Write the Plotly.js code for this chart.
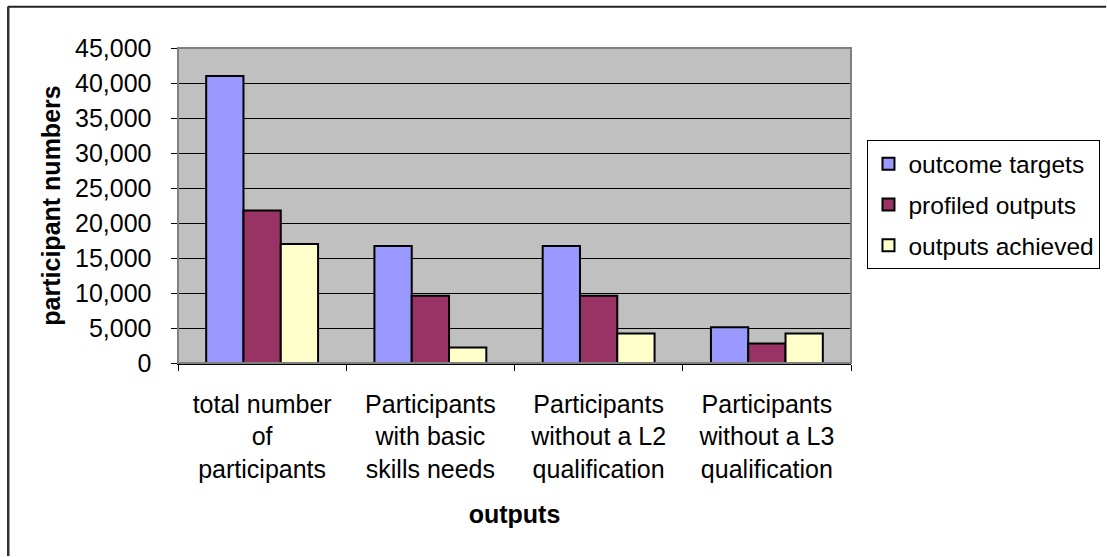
<!DOCTYPE html>
<html>
<head>
<meta charset="utf-8">
<script src="https://cdn.plot.ly/plotly-3.0.1.min.js"></script>
<style>html,body{margin:0;padding:0;background:#fff;}#chart{width:1107px;height:557px;}</style>
</head>
<body>
<div id="chart"></div>
<script>
const categories = [
  "total number<br>of<br>participants",
  "Participants<br>with basic<br>skills needs",
  "Participants<br>without a L2<br>qualification",
  "Participants<br>without a L3<br>qualification"
];
const seriesNames = ["outcome targets", "profiled outputs", "outputs achieved"];
const outcomeTargets = [41000, 16700, 16700, 5100];
const profiledOutputs = [21800, 9600, 9600, 2800];
const outputsAchieved = [17000, 2200, 4200, 4200];
const yTickValues = [0, 5000, 10000, 15000, 20000, 25000, 30000, 35000, 40000, 45000];

const colors = ["#9999FF", "#993366", "#FFFFCC"];
const seriesValues = [outcomeTargets, profiledOutputs, outputsAchieved];
const FONT = "Liberation Sans, Arial, sans-serif";

const traces = seriesValues.map((vals, i) => ({
  type: "bar",
  name: seriesNames[i],
  x: categories,
  y: vals,
  legendgroup: "g" + i,
  marker: {color: colors[i], line: {color: "#000000", width: 2}},
  hoverinfo: "x+y+name"
}));

const L = 177.5, R = 255.5, T = 47.5, B = 193.5;
const W = 1107, H = 557;
const pw = W - L - R, ph = H - T - B;
const px = v => (v - L) / pw;
const py = v => (H - B - v) / ph;

const layout = {
  width: W, height: H,
  margin: {l: L, r: R, t: T, b: B, pad: 0, autoexpand: false},
  paper_bgcolor: "#ffffff",
  plot_bgcolor: "#C0C0C0",
  font: {family: FONT, size: 25, color: "#000000"},
  barmode: "group",
  bargap: 0.335,
  bargroupgap: 0,
  showlegend: true,
  legend: {
    x: px(868), y: py(140), xanchor: "left", yanchor: "top",
    bgcolor: "#ffffff", bordercolor: "#000000", borderwidth: 1,
    font: {family: FONT, size: 24.5, color: "#000000"},
    tracegroupgap: 6,
    itemwidth: 30
  },
  xaxis: {
    type: "category",
    tickson: "boundaries",
    ticks: "outside", ticklen: 6, tickcolor: "#000000", tickwidth: 1,
    showline: true, linecolor: "#000000", linewidth: 1.5,
    showgrid: false, zeroline: false,
    tickfont: {family: FONT, size: 25},
    ticklabelstandoff: 18,
    title: {text: "outputs", font: {family: FONT, size: 25, weight: "bold"}, standoff: 24},
    automargin: false
  },
  yaxis: {
    range: [0, 45000],
    tickvals: yTickValues,
    tickformat: ",d",
    ticks: "outside", ticklen: 6, tickcolor: "#000000", tickwidth: 1,
    showline: true, linecolor: "#000000", linewidth: 1.5,
    showgrid: true, gridcolor: "#000000", gridwidth: 1,
    zeroline: false,
    tickfont: {family: FONT, size: 25},
    ticklabelstandoff: 14,
    title: {text: "participant numbers", font: {family: FONT, size: 25, weight: "bold"}, standoff: 7},
    automargin: false
  },
  shapes: [
    {type: "rect", xref: "paper", yref: "paper", x0: 0, x1: 1, y0: 0, y1: 1,
     line: {color: "#808080", width: 2}, fillcolor: "rgba(0,0,0,0)", layer: "above"},
    {type: "line", xref: "paper", yref: "paper", x0: px(7), x1: px(1107), y0: py(6), y1: py(6),
     line: {color: "#222222", width: 2}},
    {type: "line", xref: "paper", yref: "paper", x0: px(7.5), x1: px(7.5), y0: py(6), y1: py(557),
     line: {color: "#333333", width: 2.5}}
  ]
};

Plotly.newPlot("chart", traces, layout, {displayModeBar: false, staticPlot: true});
</script>
</body>
</html>
